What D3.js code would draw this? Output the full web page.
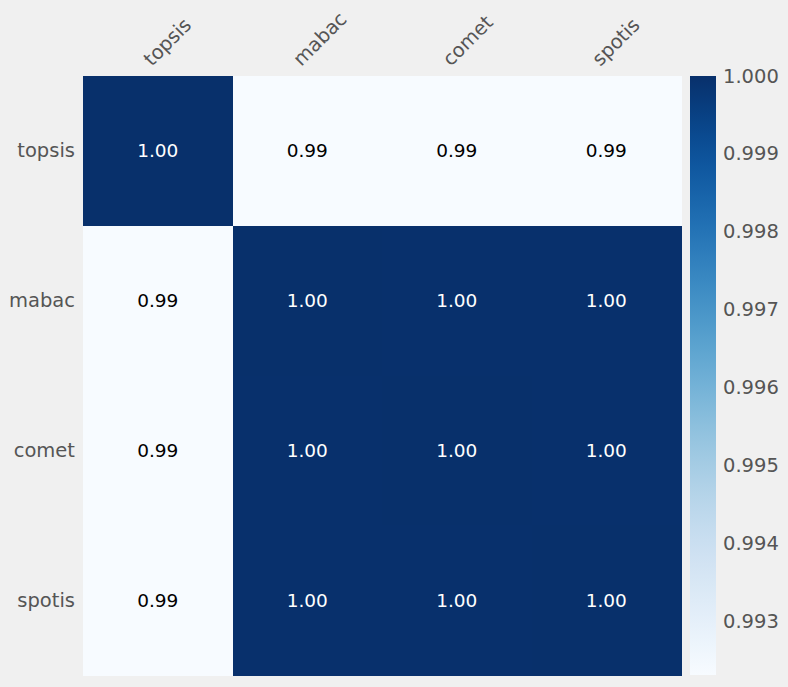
<!DOCTYPE html>
<html>
<head>
<meta charset="utf-8">
<script src="https://cdn.jsdelivr.net/npm/d3@7"></script>
<style>
  body { margin: 0; background: #f0f0f0; }
  svg { display: block; font-family: "DejaVu Sans", sans-serif; }
</style>
</head>
<body>
<div id="chart"></div>
<script>
var width = 788
var height = 687

var methods = ["topsis", "mabac", "comet", "spotis"]
// correlation matrix, row by row
var matrix = [
    [1.0000, 0.99232, 0.99232, 0.99232],
    [0.99232, 1.0000, 0.99999, 0.99999],
    [0.99232, 0.99999, 1.0000, 0.99999],
    [0.99232, 0.99999, 0.99999, 1.0000]
]
var cbarTicks = [0.993, 0.994, 0.995, 0.996, 0.997, 0.998, 0.999, 1.000]

var plot = {left: 83, right: 681, top: 76, bottom: 675}
var cbar = {left: 690, right: 716}

var cells = []
matrix.forEach(function(row, i){
    row.forEach(function(v, j){
        cells.push({row: methods[i], col: methods[j], value: v})
    })
})

var vmin = d3.min(cells, d => d.value)
var vmax = d3.max(cells, d => d.value)

var svg = d3.select("#chart").append("svg")
    .attr("width", width)
    .attr("height", height)

svg.append("rect").attr("width", width).attr("height", height).attr("fill", "#f0f0f0")

var xScale = d3.scaleBand().domain(methods).range([plot.left, plot.right])
var yScale = d3.scaleBand().domain(methods).range([plot.top, plot.bottom])
var color = d3.scaleSequential(d3.interpolateBlues).domain([vmin, vmax])

svg.selectAll("rect.cell")
    .data(cells)
    .enter()
    .append("rect")
    .attr("class", "cell")
    .attr("x", d => xScale(d.col))
    .attr("y", d => yScale(d.row))
    .attr("width", xScale.bandwidth() + 0.5)
    .attr("height", yScale.bandwidth() + 0.5)
    .attr("shape-rendering", "crispEdges")
    .attr("fill", d => color(d.value))

svg.selectAll("text.annot")
    .data(cells)
    .enter()
    .append("text")
    .attr("class", "annot")
    .attr("x", d => xScale(d.col) + xScale.bandwidth() / 2)
    .attr("y", d => yScale(d.row) + yScale.bandwidth() / 2)
    .attr("text-anchor", "middle")
    .attr("dominant-baseline", "central")
    .style("font-size", "18.5px")
    .attr("fill", d => (d.value - vmin) / (vmax - vmin) > 0.5 ? "white" : "black")
    .text(d => d3.format(".2f")(d.value))

// row labels
svg.selectAll("text.ylab")
    .data(methods)
    .enter()
    .append("text")
    .attr("class", "ylab")
    .attr("x", plot.left - 8)
    .attr("y", d => yScale(d) + yScale.bandwidth() / 2)
    .attr("text-anchor", "end")
    .attr("dominant-baseline", "central")
    .style("font-size", "19.5px")
    .attr("fill", "#555")
    .text(d => d)

// column labels, rotated
svg.selectAll("text.xlab")
    .data(methods)
    .enter()
    .append("text")
    .attr("class", "xlab")
    .attr("transform", d => "translate(" + (xScale(d) + xScale.bandwidth() / 2 - 6) + "," + 67 + ") rotate(-45)")
    .attr("text-anchor", "start")
    .style("font-size", "19.5px")
    .attr("fill", "#555")
    .text(d => d)

// colorbar
var cScale = d3.scaleLinear().domain([vmin, vmax]).range([plot.bottom, plot.top])
var defs = svg.append("defs")
var grad = defs.append("linearGradient")
    .attr("id", "cbar-grad")
    .attr("x1", "0").attr("y1", "1").attr("x2", "0").attr("y2", "0")
d3.range(0, 1.0001, 0.05).forEach(function(t){
    grad.append("stop").attr("offset", t).attr("stop-color", d3.interpolateBlues(t))
})
svg.append("rect")
    .attr("x", cbar.left)
    .attr("y", plot.top)
    .attr("width", cbar.right - cbar.left)
    .attr("height", plot.bottom - plot.top)
    .attr("fill", "url(#cbar-grad)")

svg.selectAll("text.ctick")
    .data(cbarTicks)
    .enter()
    .append("text")
    .attr("class", "ctick")
    .attr("x", cbar.right + 7)
    .attr("y", d => cScale(d))
    .attr("dominant-baseline", "central")
    .style("font-size", "19.5px")
    .attr("fill", "#555")
    .text(d => d3.format(".3f")(d))
</script>
</body>
</html>
